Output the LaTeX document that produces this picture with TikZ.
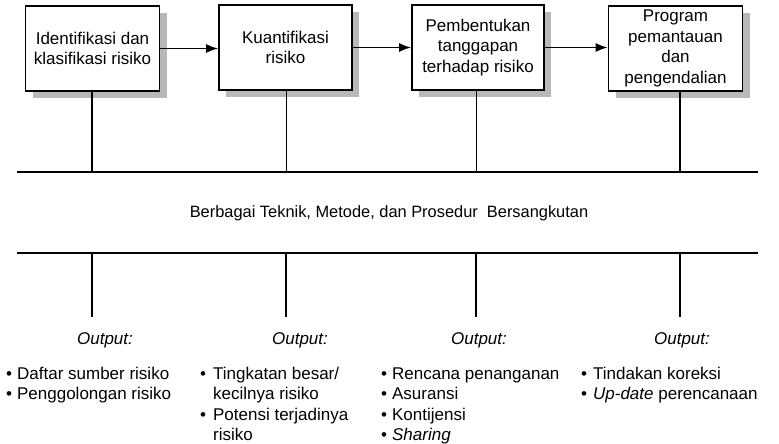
\documentclass[tikz,border=0pt]{standalone}
\usepackage{fontspec}
\setmainfont{Liberation Sans}
\usetikzlibrary{arrows.meta,shadows,positioning}
\tikzset{
  txt/.style={font=\fontsize{17}{20.5}\selectfont},
  stage/.style={txt, draw, line width=1.6pt, fill=white, align=center,
    inner sep=0pt, minimum width=134pt, minimum height=85pt,
    drop shadow={shadow xshift=7pt, shadow yshift=-7pt, fill=black!28, opacity=1}},
  flow/.style={-{Latex[length=12pt,width=9pt]}, line width=1.8pt},
  bus/.style={line width=2.8pt},
  outlist/.style={txt, anchor=base west, inner sep=0pt}
}
\newcommand{\bul}{\textbullet}
\begin{document}
\begin{tikzpicture}[x=1pt,y=-1pt]
  \useasboundingbox (0,0) rectangle (779,444);
  \draw
    (92.5,48.5) node[stage] (b1) {Identifikasi dan\\klasifikasi risiko}
    (285.5,47.5) node[stage, minimum width=133pt] (b2) {Kuantifikasi\\risiko}
    (478,47.5) node[stage, minimum width=132pt] (b3) {Pembentukan\\tanggapan\\terhadap risiko}
    (675.5,48.5) node[stage] (b4) {Program\\pemantauan\\dan\\pengendalian};
  \foreach \x [count=\i] in {92,286,476,680} {
    \coordinate (u\i) at (\x,172);
    \coordinate (d\i) at (\x,253);
    \coordinate (e\i) at (\x,317);
  }
  \coordinate (tl) at (17,172);
  \coordinate (tr) at (758,172);
  \coordinate (bl) at (17,253);
  \coordinate (br) at (758,253);
  \begin{scope}[flow]
    \draw (b1.east) -- (b1.east -| b2.west);
    \draw (b2.east) -- (b2.east -| b3.west);
    \draw (b3.east) -- (b3.east -| b4.west);
  \end{scope}
  \draw[bus] (tl) -- (tr);
  \draw[bus] (bl) -- (br);
  \draw[line width=1.9pt] (b1.south -| u1) -- (u1);
  \draw[line width=1pt] (b2.south -| u2) -- (u2);
  \draw[line width=1pt] (b3.south -| u3) -- (u3);
  \draw[line width=1.9pt] (b4.south -| u4) -- (u4);
  \begin{scope}[line width=1.6pt]
    \draw (d1) -- (e1);
    \draw (d2) -- (e2);
    \draw (d3) -- (e3);
    \draw (d4) -- (e4);
  \end{scope}
  \node[font=\fontsize{16.4}{20}\selectfont] (mid) at (389,213) {Berbagai Teknik, Metode, dan Prosedur\ \ Bersangkutan};
  \node[txt] (o1) at (105,340) {\textit{Output:}};
  \node[txt] (o2) at (300,340) {\textit{Output:}};
  \node[txt] (o3) at (479,340) {\textit{Output:}};
  \node[txt] (o4) at (682,340) {\textit{Output:}};
  \node[outlist] (l1) at (6,379) {\begin{tabular}[t]{@{}l@{\hspace{5pt}}l@{}}
    \bul & Daftar sumber risiko\\
    \bul & Penggolongan risiko\end{tabular}};
  \node[outlist] (l2) at (200,379) {\begin{tabular}[t]{@{}l@{\hspace{7pt}}l@{}}
    \bul & Tingkatan besar/\\
         & kecilnya risiko\\
    \bul & Potensi terjadinya\\
         & risiko\end{tabular}};
  \node[outlist] (l3) at (381,379) {\begin{tabular}[t]{@{}l@{\hspace{5pt}}l@{}}
    \bul & Rencana penanganan\\
    \bul & Asuransi\\
    \bul & Kontijensi\\
    \bul & \textit{Sharing}\end{tabular}};
  \node[outlist] (l4) at (581,379) {\begin{tabular}[t]{@{}l@{\hspace{6pt}}l@{}}
    \bul & Tindakan koreksi\\
    \bul & \textit{Up-date} perencanaan\end{tabular}};
\end{tikzpicture}
\end{document}
